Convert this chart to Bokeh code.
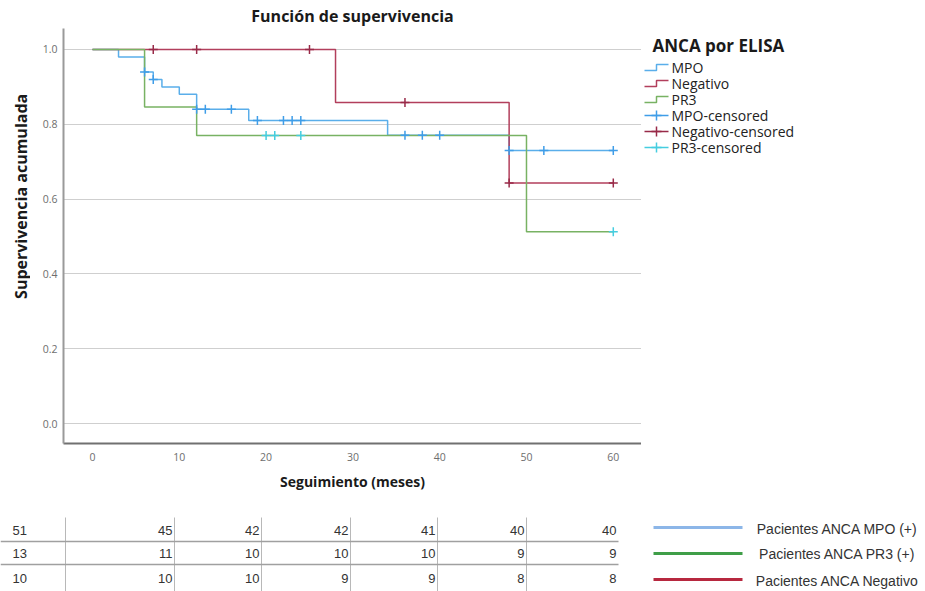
import math
from bokeh.plotting import figure
from bokeh.models import Range1d, FixedTicker, CustomJSTickFormatter
from bokeh.layouts import column, row
from bokeh.core.properties import value
from bokeh.embed import file_html
from bokeh.resources import INLINE

# ---------------- data ----------------
mpo_t = [0, 3, 6, 7, 8, 10, 12, 18, 34, 48, 60]
mpo_s = [1.0, 0.98, 0.94, 0.92, 0.90, 0.88, 0.84, 0.81, 0.771, 0.73, 0.73]
mpo_ct = [6, 7, 12, 13, 16, 19, 22, 23, 24, 36, 38, 40, 48, 52, 60]
mpo_cs = [0.94, 0.92, 0.84, 0.84, 0.84, 0.81, 0.81, 0.81, 0.81, 0.771, 0.771, 0.771, 0.73, 0.73, 0.73]

neg_t = [0, 28, 48, 60]
neg_s = [1.0, 0.858, 0.643, 0.643]
neg_ct = [7, 12, 25, 36, 48, 60]
neg_cs = [1.0, 1.0, 1.0, 0.858, 0.643, 0.643]

pr3_t = [0, 6, 12, 50, 60]
pr3_s = [1.0, 0.846, 0.77, 0.513, 0.513]
pr3_ct = [20, 21, 24, 60]
pr3_cs = [0.77, 0.77, 0.77, 0.513]

x_ticks = [0, 10, 20, 30, 40, 50, 60]
y_ticks = [0.0, 0.2, 0.4, 0.6, 0.8, 1.0]

y_title = "Supervivencia acumulada"
legend_title = "ANCA por ELISA"
legend_labels = ["MPO", "Negativo", "PR3", "MPO-censored", "Negativo-censored", "PR3-censored"]

risk_mpo = [51, 45, 42, 42, 41, 40, 40]
risk_pr3 = [13, 11, 10, 10, 10, 9, 9]
risk_neg = [10, 10, 10, 9, 9, 8, 8]
risk_labels = ["Pacientes ANCA MPO (+)", "Pacientes ANCA PR3 (+)", "Pacientes ANCA Negativo"]

# ---------------- layout / styles ----------------
TOTAL_W = 925
YLAB_W = 30
MAIN_RIGHT, MAIN_H = 641, 497
FL, FT, FB = 63, 28, 443            # main frame edges (px, page coords)
TABLE_H = 591 - MAIN_H
YLAB_X, YLAB_Y = 20, 201

C_MPO = "#5aaeea"
C_NEG = "#b23f5c"
C_PR3 = "#78b263"
C_MPO_C = "#3f9de8"
C_NEG_C = "#982a48"
C_PR3_C = "#45cde0"
BOLD = "Open Sans"
TABLE_FONT = "Liberation Sans"

# ---------------- y-axis title strip ----------------
yl = figure(width=YLAB_W, height=MAIN_H, output_backend="svg", toolbar_location=None,
            x_range=Range1d(0, YLAB_W), y_range=Range1d(MAIN_H, 0), min_border=0)
yl.axis.visible = False
yl.grid.visible = False
yl.outline_line_color = None
yl.text(x=[YLAB_X], y=[YLAB_Y], text=[y_title], angle=math.pi / 2, text_align="center",
        text_baseline="middle", text_font=value(BOLD), text_font_style="bold",
        text_font_size="16px", text_color="#1a1a1a")

# ---------------- main chart ----------------
p = figure(width=MAIN_RIGHT - YLAB_W, height=MAIN_H, output_backend="svg", toolbar_location=None,
           x_range=Range1d(-3.34, 63.25), y_range=Range1d(-0.053, 1.056),
           min_border_left=FL - YLAB_W, min_border_right=0, min_border_top=FT,
           min_border_bottom=MAIN_H - FB)
p.title.text = "Función de supervivencia"
p.title.align = "center"
p.title.text_font = BOLD
p.title.text_font_style = "bold"
p.title.text_font_size = "16px"
p.title.text_color = "#1a1a1a"
p.title.standoff = 3
p.outline_line_color = None

p.step(mpo_t, mpo_s, mode="after", line_color=C_MPO, line_width=1.5)
p.step(neg_t, neg_s, mode="after", line_color=C_NEG, line_width=1.5)
p.step(pr3_t, pr3_s, mode="after", line_color=C_PR3, line_width=1.5)
p.scatter(mpo_ct, mpo_cs, marker="cross", size=9, line_color=C_MPO_C, line_width=1.5)
p.scatter(neg_ct, neg_cs, marker="cross", size=9, line_color=C_NEG_C, line_width=1.5)
p.scatter(pr3_ct, pr3_cs, marker="cross", size=9, line_color=C_PR3_C, line_width=1.5)

p.xaxis.ticker = FixedTicker(ticks=x_ticks)
p.yaxis.ticker = FixedTicker(ticks=y_ticks)
p.yaxis.formatter = CustomJSTickFormatter(code="return tick.toFixed(1);")
for ax in (p.xaxis, p.yaxis):
    ax.major_tick_line_color = None
    ax.minor_tick_line_color = None
    ax.major_tick_out = 0
    ax.major_tick_in = 0
    ax.minor_tick_out = 0
    ax.major_label_text_font = "Open Sans"
    ax.major_label_text_font_size = "10.5px"
    ax.major_label_text_color = "#6e6e6e"
p.xaxis.axis_line_color = "#707070"
p.xaxis.axis_line_width = 2
p.yaxis.axis_line_color = "#9a9a9a"
p.yaxis.axis_line_width = 2
p.xaxis.axis_label = "Seguimiento (meses)"
p.xaxis.axis_label_text_font = BOLD
p.xaxis.axis_label_text_font_style = "bold"
p.xaxis.axis_label_text_color = "#1a1a1a"
p.xaxis.axis_label_text_font_size = "14px"
p.xaxis.major_label_standoff = 9
p.xaxis.axis_label_standoff = 8
p.yaxis.major_label_standoff = 6
p.xgrid.grid_line_color = None
p.ygrid.grid_line_color = "#cfcfcf"
p.ygrid.grid_line_width = 1

# ---------------- legend panel (right) ----------------
lg = figure(width=TOTAL_W - MAIN_RIGHT, height=MAIN_H, output_backend="svg", toolbar_location=None,
            x_range=Range1d(MAIN_RIGHT, TOTAL_W), y_range=Range1d(FB, FT),
            min_border_left=0, min_border_right=0, min_border_top=FT,
            min_border_bottom=MAIN_H - FB)
lg.axis.visible = False
lg.grid.visible = False
lg.outline_line_color = None

LG_TITLE_X, LG_TITLE_Y = 652, 45
LG_ITEM_Y = [67, 83, 99, 115, 131, 147]
ICON_X0, ICON_XM, ICON_X1, TEXT_X = 644, 656, 668, 671
STEP_H = 3

lg.text(x=[LG_TITLE_X], y=[LG_TITLE_Y], text=[legend_title], text_align="left",
        text_baseline="middle", text_font=value(BOLD), text_font_style="bold",
        text_font_size="17px", text_color="#1a1a1a")
lg.text(x=[TEXT_X] * 6, y=LG_ITEM_Y, text=legend_labels, text_align="left",
        text_baseline="middle", text_font=value("Open Sans"), text_font_size="14px",
        text_color="#222222")
line_cols = [C_MPO, C_NEG, C_PR3]
for c, yy in zip(line_cols, LG_ITEM_Y[:3]):
    lg.line([ICON_X0, ICON_XM, ICON_XM, ICON_X1],
            [yy + STEP_H, yy + STEP_H, yy - STEP_H, yy - STEP_H], line_color=c, line_width=1.5)
cens_cols = [C_MPO_C, C_NEG_C, C_PR3_C]
for c, yy in zip(cens_cols, LG_ITEM_Y[3:]):
    lg.segment(x0=[ICON_X0], y0=[yy], x1=[ICON_X1], y1=[yy], line_color=c, line_width=1.5)
    lg.scatter([ICON_XM], [yy], marker="cross", size=10, line_color=c, line_width=1.5)

# ---------------- risk table (bottom) ----------------
t = figure(width=TOTAL_W, height=TABLE_H, output_backend="svg", toolbar_location=None,
           x_range=Range1d(0, TOTAL_W), y_range=Range1d(591, MAIN_H), min_border=0)
t.axis.visible = False
t.grid.visible = False
t.outline_line_color = None

ROW_Y = [530, 553, 578]
HLINE_Y = [541, 564]
VLINE_X = [65, 174, 261, 350, 437, 526]
COL_RIGHT = [172, 259, 348, 435, 524, 616]
FIRST_X = 12
TABLE_TOP, TABLE_BOT, TABLE_RIGHT = 517, 591, 618
LEG_X0, LEG_X1, LEG_TX = 653, 742, 837
LEG_LINE_Y = [527, 553, 579]
LEG_TEXT_Y = [528, 553, 580]

t.segment(x0=VLINE_X, y0=[TABLE_TOP] * 6, x1=VLINE_X, y1=[TABLE_BOT] * 6,
          line_color="#b8b8b8", line_width=1)
t.segment(x0=[0, 0], y0=HLINE_Y, x1=[TABLE_RIGHT] * 2, y1=HLINE_Y,
          line_color="#a0a0a0", line_width=1.3)

rows = [risk_mpo, risk_pr3, risk_neg]
t.text(x=[FIRST_X] * 3, y=ROW_Y, text=[str(r[0]) for r in rows], text_align="left",
       text_baseline="middle", text_font=value(TABLE_FONT), text_font_size="13px",
       text_color="#333333")
for yy, vals in zip(ROW_Y, rows):
    t.text(x=COL_RIGHT, y=[yy] * 6, text=[str(v) for v in vals[1:]], text_align="right",
           text_baseline="middle", text_font=value(TABLE_FONT), text_font_size="13px",
           text_color="#333333")

leg_colors = ["#8cb6e8", "#3f9e48", "#b7283f"]
t.segment(x0=[LEG_X0] * 3, y0=LEG_LINE_Y, x1=[LEG_X1] * 3, y1=LEG_LINE_Y,
          line_color=leg_colors, line_width=3)
t.text(x=[LEG_TX] * 3, y=LEG_TEXT_Y, text=risk_labels, text_align="center",
       text_baseline="middle", text_font=value(TABLE_FONT), text_font_size="14px",
       text_color="#333333")

layout = column(row(yl, p, lg, spacing=0), t, spacing=0)
open("out.html", "w").write(file_html(layout, INLINE))
